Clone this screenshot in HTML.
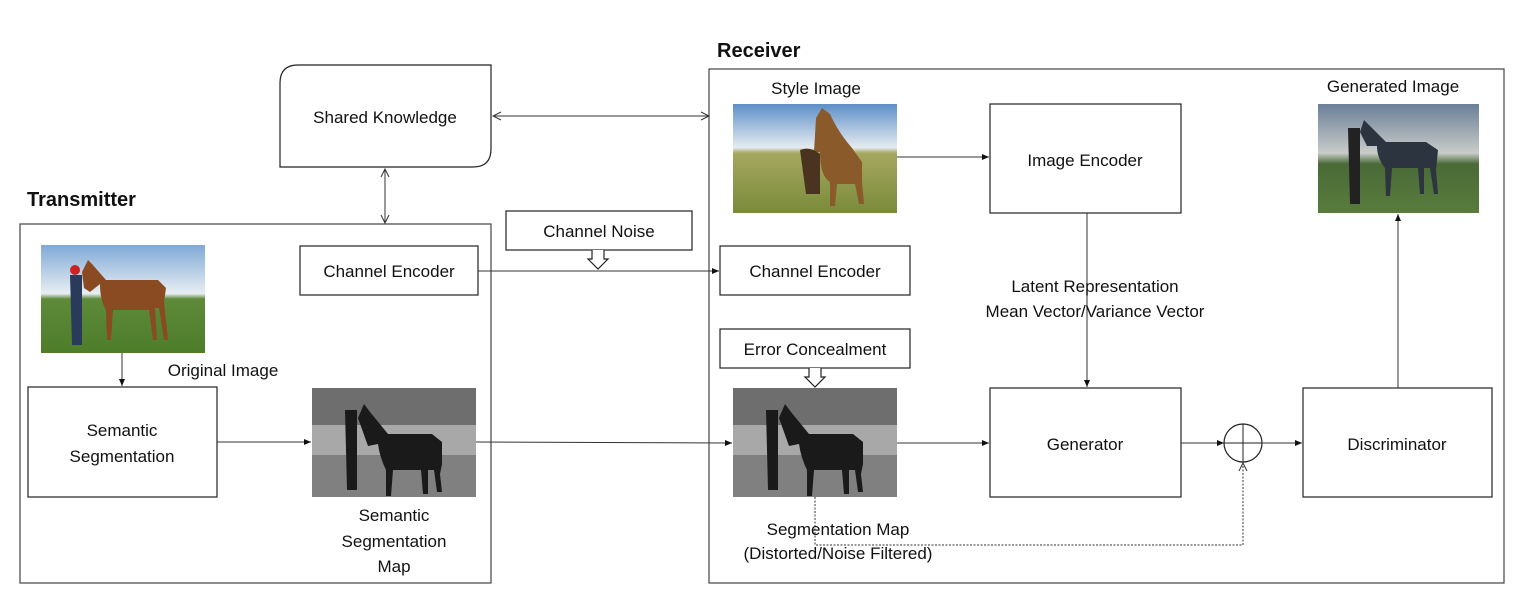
<!DOCTYPE html>
<html><head><meta charset="utf-8"><style>
html,body{margin:0;padding:0;background:#fff;}
svg text{font-family:"Liberation Sans",sans-serif;font-size:17px;fill:#111;}
</style></head><body>
<svg width="1531" height="603" viewBox="0 0 1531 603" xmlns="http://www.w3.org/2000/svg">
<defs>
<marker id="a" markerWidth="8" markerHeight="8" refX="7" refY="4" orient="auto" markerUnits="userSpaceOnUse"><path d="M0,1 L7,4 L0,7 z" fill="#111"/></marker>
<marker id="o" markerWidth="10" markerHeight="10" refX="9" refY="5" orient="auto" markerUnits="userSpaceOnUse"><path d="M1,1 L9,5 L1,9" fill="none" stroke="#333"/></marker>
<marker id="os" markerWidth="10" markerHeight="10" refX="1" refY="5" orient="auto" markerUnits="userSpaceOnUse"><path d="M9,1 L1,5 L9,9" fill="none" stroke="#333"/></marker>
<linearGradient id="sky" x1="0" y1="0" x2="0" y2="1"><stop offset="0" stop-color="#7fa9d6"/><stop offset="0.45" stop-color="#e8eef3"/><stop offset="0.5" stop-color="#5e8a3a"/><stop offset="1" stop-color="#4e7d2a"/></linearGradient>
<linearGradient id="sky2" x1="0" y1="0" x2="0" y2="1"><stop offset="0" stop-color="#5d8fc8"/><stop offset="0.4" stop-color="#e5ecf0"/><stop offset="0.45" stop-color="#a5a860"/><stop offset="1" stop-color="#7a8a3a"/></linearGradient>
<linearGradient id="sky3" x1="0" y1="0" x2="0" y2="1"><stop offset="0" stop-color="#6a7f98"/><stop offset="0.45" stop-color="#c9ccc9"/><stop offset="0.55" stop-color="#4a6a38"/><stop offset="1" stop-color="#587c3c"/></linearGradient>
</defs>
<g fill="none" stroke="#222" stroke-width="1.2">
<rect x="20" y="224" width="471" height="359" stroke="#444"/>
<rect x="709" y="69" width="795" height="514" stroke="#444"/>
<path d="M298,65 H491 V149 Q491,167 473,167 H280 V83 Q280,65 298,65 Z"/>
<rect x="28" y="387" width="189" height="110"/>
<rect x="300" y="246" width="178" height="49"/>
<rect x="506" y="211" width="186" height="39"/>
<rect x="720" y="246" width="190" height="49"/>
<rect x="720" y="329" width="190" height="39"/>
<rect x="990" y="104" width="191" height="109"/>
<rect x="990" y="388" width="191" height="109"/>
<rect x="1303" y="388" width="189" height="109"/>
<circle cx="1243" cy="443" r="19"/>
<path d="M1224,443 H1262 M1243,424 V462" stroke-width="1"/>
</g>
<path d="M592,250 V259 H588 L598,269 L608,259 H604 V250" fill="#fff" stroke="#222" stroke-width="1.2"/>
<path d="M809,368 V377 H805 L815,387 L825,377 H821 V368" fill="#fff" stroke="#222" stroke-width="1.2"/>
<g stroke="#333" stroke-width="1" fill="none">
<line x1="493" y1="116" x2="709" y2="116" marker-start="url(#os)" marker-end="url(#o)"/>
<line x1="385" y1="169" x2="385" y2="223" marker-start="url(#os)" marker-end="url(#o)"/>
<line x1="122" y1="353" x2="122" y2="386" marker-end="url(#a)"/>
<line x1="217" y1="442" x2="311" y2="442" marker-end="url(#a)"/>
<line x1="478" y1="271" x2="719" y2="271" marker-end="url(#a)"/>
<line x1="476" y1="442" x2="732" y2="443" marker-end="url(#a)"/>
<line x1="897" y1="157" x2="989" y2="157" marker-end="url(#a)"/>
<line x1="1087" y1="213" x2="1087" y2="387" marker-end="url(#a)"/>
<line x1="897" y1="443" x2="989" y2="443" marker-end="url(#a)"/>
<line x1="1181" y1="443" x2="1224" y2="443" marker-end="url(#a)"/>
<line x1="1262" y1="443" x2="1302" y2="443" marker-end="url(#a)"/>
<line x1="1398" y1="388" x2="1398" y2="214" marker-end="url(#a)"/>
<path d="M815,497 V545 H1243 V463" stroke-dasharray="2,1.5" marker-end="url(#o)"/>
</g>
<!-- images -->
<rect x="41" y="245" width="164" height="108" fill="url(#sky)"/>
<path d="M82,272 l6,-12 l4,4 l14,16 h52 l8,8 l-2,14 l4,38 h-4 l-5,-32 h-4 l2,32 h-4 l-4,-30 h-36 l-2,30 h-4 l-1,-30 q-6,-10 -6,-26 l-10,8 l-6,-4z" fill="#8a4a22"/>
<path d="M70,275 h12 v70 h-10z" fill="#2a3a5a"/><circle cx="75" cy="270" r="5" fill="#c22"/>
<rect x="312" y="388" width="164" height="109" fill="#6e6e6e"/>
<rect x="312" y="425" width="164" height="30" fill="#a8a8a8"/>
<rect x="312" y="455" width="164" height="42" fill="#808080"/>
<path d="M345,410 h12 v80 h-10z M358,418 l6,-14 l6,8 l18,22 h44 l10,8 v22 l-2,10 l2,18 h-5 l-3,-22 l-6,0 l0,24 h-5 l-2,-24 h-28 l-2,26 h-5 l0,-26 q-6,-12 -8,-26 l-10,2 z" fill="#1a1a1a"/>
<rect x="733" y="388" width="164" height="109" fill="#6e6e6e"/>
<rect x="733" y="425" width="164" height="30" fill="#a8a8a8"/>
<rect x="733" y="455" width="164" height="42" fill="#808080"/>
<path d="M766,410 h12 v80 h-10z M779,418 l6,-14 l6,8 l18,22 h44 l10,8 v22 l-2,10 l2,18 h-5 l-3,-22 l-6,0 l0,24 h-5 l-2,-24 h-28 l-2,26 h-5 l0,-26 q-6,-12 -8,-26 l-10,2 z" fill="#1a1a1a"/>
<rect x="733" y="104" width="164" height="109" fill="url(#sky2)"/>
<path d="M816,118 l6,-10 l8,6 q8,18 22,34 l10,14 v20 l2,22 h-5 l-4,-20 h-18 l-2,22 h-5 l0,-24 q-10,-6 -10,-30 l-6,0 z" fill="#8a5a2a"/>
<path d="M800,150 q10,-4 20,4 v40 h-14z" fill="#4a3420"/>
<rect x="1318" y="104" width="161" height="109" fill="url(#sky3)"/>
<path d="M1360,132 l4,-12 l8,8 l14,14 h40 l12,8 l-2,20 l2,24 h-4 l-4,-26 h-6 l0,26 h-4 l-2,-26 h-26 l-2,28 h-4 l-1,-28 q-8,-10 -8,-22 l-10,0 z" fill="#2c3440"/>
<path d="M1348,128 h12 v76 h-10z" fill="#222"/>
<text x="27" y="206" style="font-size:20px;font-weight:bold">Transmitter</text>
<text x="717" y="57" style="font-size:20px;font-weight:bold">Receiver</text>
<g text-anchor="middle">
<text x="385" y="123">Shared Knowledge</text>
<text x="389" y="277">Channel Encoder</text>
<text x="599" y="237">Channel Noise</text>
<text x="815" y="277">Channel Encoder</text>
<text x="815" y="355">Error Concealment</text>
<text x="122" y="436">Semantic</text>
<text x="122" y="462">Segmentation</text>
<text x="223" y="376">Original Image</text>
<text x="394" y="521">Semantic</text>
<text x="394" y="547">Segmentation</text>
<text x="394" y="572">Map</text>
<text x="816" y="94">Style Image</text>
<text x="1085" y="166">Image Encoder</text>
<text x="1095" y="292">Latent Representation</text>
<text x="1095" y="317">Mean Vector/Variance Vector</text>
<text x="1085" y="450">Generator</text>
<text x="1397" y="450">Discriminator</text>
<text x="1393" y="92">Generated Image</text>
<text x="838" y="535">Segmentation Map</text>
<text x="838" y="559">(Distorted/Noise Filtered)</text>
</g>
</svg>
</body></html>
